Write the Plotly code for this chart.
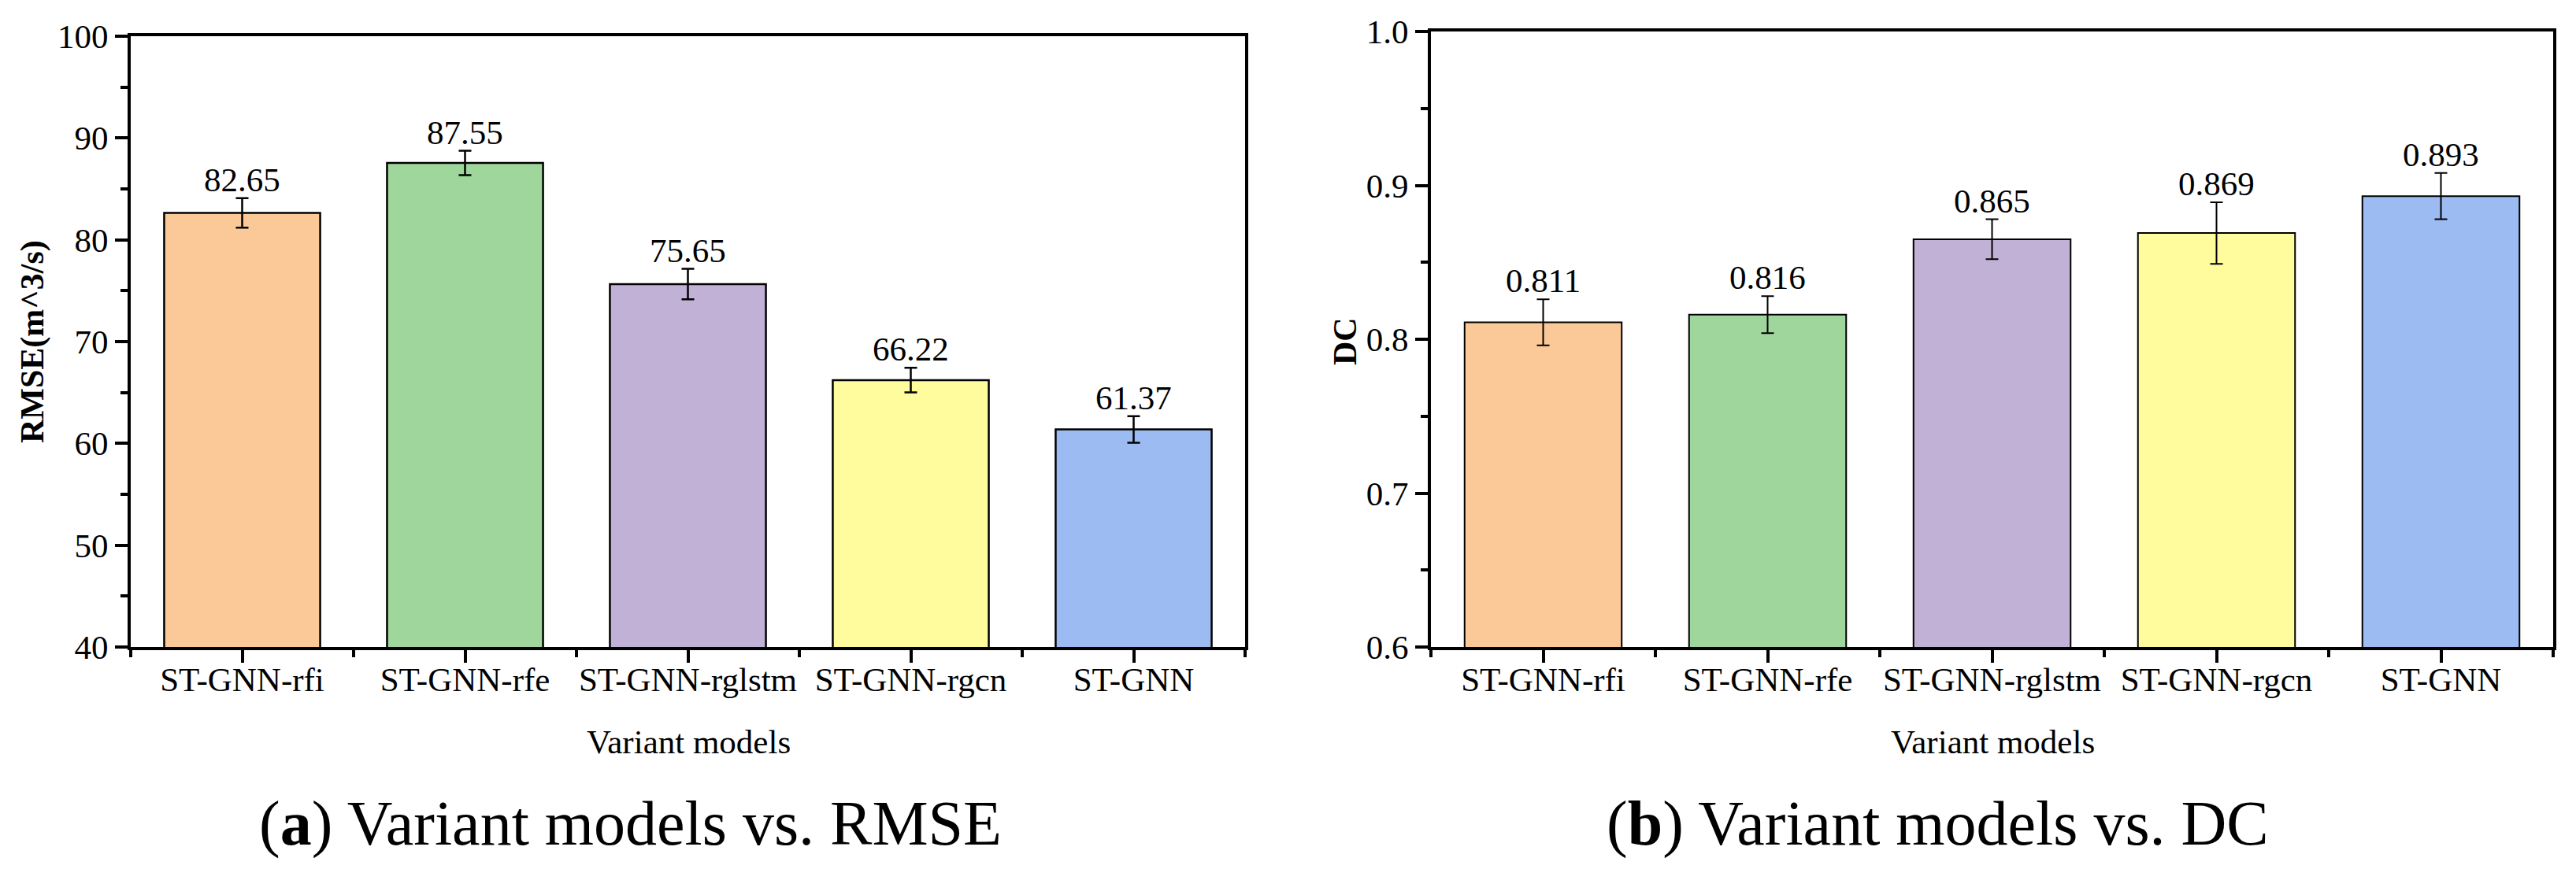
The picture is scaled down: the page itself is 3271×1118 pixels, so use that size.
import plotly.graph_objects as go

categories = ["ST-GNN-rfi", "ST-GNN-rfe", "ST-GNN-rglstm", "ST-GNN-rgcn", "ST-GNN"]
rmse_values = [82.65, 87.55, 75.65, 66.22, 61.37]
rmse_errors = [1.45, 1.2, 1.5, 1.2, 1.3]
dc_values = [0.811, 0.816, 0.865, 0.869, 0.893]
dc_errors = [0.015, 0.012, 0.013, 0.020, 0.015]
bar_colors = ["#FBC998", "#9ED69B", "#C2B1D6", "#FEFC9C", "#9CBBF2"]
rmse_ticks = [40, 50, 60, 70, 80, 90, 100]
dc_ticks = [0.6, 0.7, 0.8, 0.9, 1.0]

W, H = 3271, 1118
FONT = "Liberation Serif, Times New Roman, serif"
xpos = list(range(len(categories)))


def px(x):
    return x / W


def py(y):
    return 1 - y / H


fig = go.Figure()

fig.add_trace(go.Bar(
    x=xpos, y=rmse_values, width=0.7,
    marker=dict(color=bar_colors, line=dict(color="black", width=2.5)),
    error_y=dict(type="data", array=rmse_errors, color="black", thickness=2.5, width=8),
    xaxis="x", yaxis="y", showlegend=False,
))
fig.add_trace(go.Bar(
    x=xpos, y=dc_values, width=0.7,
    marker=dict(color=bar_colors, line=dict(color="black", width=2)),
    error_y=dict(type="data", array=dc_errors, color="black", thickness=2, width=8),
    xaxis="x2", yaxis="y2", showlegend=False,
))

tickfont = dict(family=FONT, size=43, color="black")
common_x = dict(
    range=[-0.5, 4.5], tickvals=xpos, ticktext=categories,
    ticks="outside", ticklen=16, tickwidth=4, tickcolor="black",
    showline=True, linewidth=4, linecolor="black", mirror=True,
    showgrid=False, zeroline=False, tickfont=tickfont, automargin=False,
    ticklabelstandoff=-16,
    minor=dict(ticks="outside", ticklen=9, tickwidth=4, tickcolor="black",
               tick0=0.5, dtick=1, showgrid=False),
)
common_y = dict(
    ticks="outside", ticklen=16, tickwidth=4, tickcolor="black",
    showline=True, linewidth=4, linecolor="black", mirror=True,
    showgrid=False, zeroline=False, tickfont=tickfont, automargin=False,
)

fig.update_layout(
    template="none",
    width=W, height=H,
    margin=dict(l=0, r=0, t=0, b=0, pad=0),
    paper_bgcolor="white", plot_bgcolor="white",
    font=dict(family=FONT, color="black"),
    showlegend=False,
    xaxis=dict(domain=[px(166), px(1581)], anchor="y", **common_x),
    yaxis=dict(domain=[py(822), py(46)], anchor="x", range=[40, 100],
               tickvals=rmse_ticks,
               minor=dict(ticks="outside", ticklen=9, tickwidth=4, tickcolor="black",
                          tick0=40, dtick=5, showgrid=False),
               **common_y),
    xaxis2=dict(domain=[px(1817), px(3242)], anchor="y2", **common_x),
    yaxis2=dict(domain=[py(822), py(40)], anchor="x2", range=[0.6, 1.0],
                tickvals=dc_ticks, tickformat=".1f",
                minor=dict(ticks="outside", ticklen=9, tickwidth=4, tickcolor="black",
                           tick0=0.6, dtick=0.05, showgrid=False),
                **common_y),
)

annotations = []
for i, (v, e) in enumerate(zip(rmse_values, rmse_errors)):
    annotations.append(dict(x=i, y=v + e, xref="x", yref="y", text=f"{v:.2f}",
                            showarrow=False, yanchor="bottom", yshift=-2,
                            font=dict(family=FONT, size=43, color="black")))
for i, (v, e) in enumerate(zip(dc_values, dc_errors)):
    annotations.append(dict(x=i, y=v + e, xref="x2", yref="y2", text=f"{v:.3f}",
                            showarrow=False, yanchor="bottom", yshift=-2,
                            font=dict(family=FONT, size=43, color="black")))

# axis titles and captions
annotations += [
    dict(x=px(41), y=py(434), xref="paper", yref="paper", text="<b>RMSE(m^3/s)</b>",
         textangle=-90, showarrow=False, xanchor="center", yanchor="middle",
         font=dict(family=FONT, size=42, color="black")),
    dict(x=px(1708), y=py(434), xref="paper", yref="paper", text="<b>DC</b>",
         textangle=-90, showarrow=False, xanchor="center", yanchor="middle",
         font=dict(family=FONT, size=42, color="black")),
    dict(x=px(874), y=py(942), xref="paper", yref="paper", text="Variant models",
         showarrow=False, xanchor="center", yanchor="middle",
         font=dict(family=FONT, size=43, color="black")),
    dict(x=px(2530), y=py(942), xref="paper", yref="paper", text="Variant models",
         showarrow=False, xanchor="center", yanchor="middle",
         font=dict(family=FONT, size=43, color="black")),
    dict(x=px(800), y=py(1046), xref="paper", yref="paper",
         text="(<b>a</b>) Variant models vs. RMSE",
         showarrow=False, xanchor="center", yanchor="middle",
         font=dict(family=FONT, size=80, color="black")),
    dict(x=px(2460), y=py(1046), xref="paper", yref="paper",
         text="(<b>b</b>) Variant models vs. DC",
         showarrow=False, xanchor="center", yanchor="middle",
         font=dict(family=FONT, size=80, color="black")),
]
fig.update_layout(annotations=annotations)

fig.write_html("out.html", config={"displayModeBar": False},
               post_script="document.body.style.margin='0px';")
